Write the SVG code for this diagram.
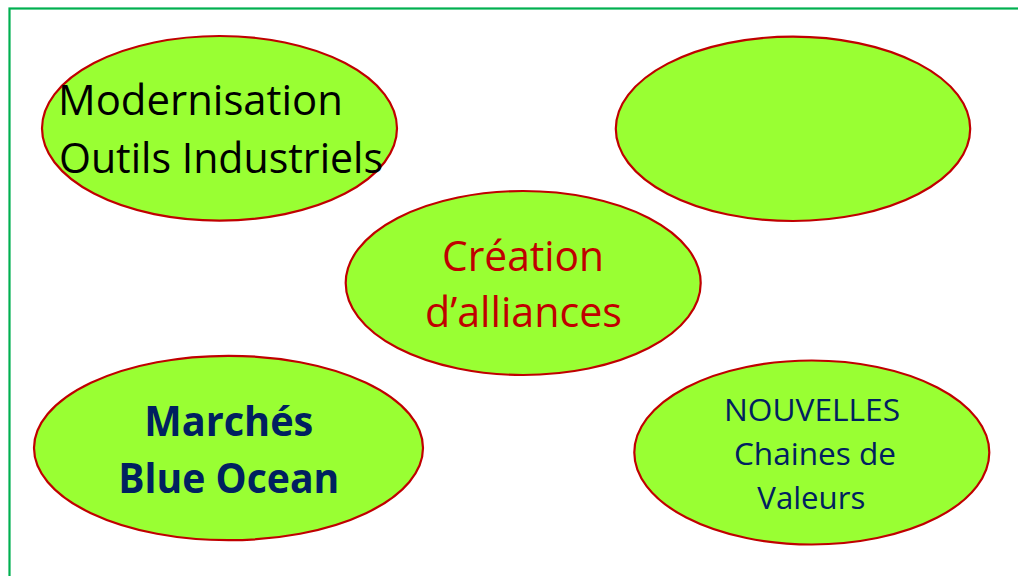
<svg xmlns="http://www.w3.org/2000/svg" width="1018" height="576" viewBox="0 0 1018 576">
<style>
.bubble{fill:#99FF33;stroke:#C00000;stroke-width:2.2}
.t{font-family:"Open Sans","Noto Sans","Liberation Sans",sans-serif}
.big{font-size:42px}
.navyb{font-size:41px;font-weight:bold;fill:#002060}
.navy{font-size:31px;fill:#002060}
.red{fill:#C00000}
</style>
<rect x="0" y="0" width="1018" height="576" fill="#FFFFFF"/>
<rect x="9.5" y="8.5" width="1030" height="590" fill="none" stroke="#00B050" stroke-width="2.2"/>
<g id="connectors"></g>
<g id="node-modernisation">
<ellipse class="bubble" cx="219.5" cy="128.3" rx="177.5" ry="92.3"/>
<text class="t big" x="58" y="115" textLength="285" lengthAdjust="spacingAndGlyphs">Modernisation</text>
<text class="t big" x="59" y="173" textLength="324" lengthAdjust="spacingAndGlyphs">Outils Industriels</text>
</g>
<g id="node-empty">
<ellipse class="bubble" cx="793" cy="128.8" rx="177.2" ry="92.2"/>
</g>
<g id="node-alliances">
<ellipse class="bubble" cx="523.2" cy="283" rx="177.5" ry="92"/>
<text class="t big red" x="523" y="270.7" text-anchor="middle" textLength="162" lengthAdjust="spacingAndGlyphs">Création</text>
<text class="t big red" x="523.5" y="326.7" text-anchor="middle" textLength="197" lengthAdjust="spacingAndGlyphs">d’alliances</text>
</g>
<g id="node-blueocean">
<ellipse class="bubble" cx="228.5" cy="448" rx="194.5" ry="92.2"/>
<text class="t navyb" x="228.8" y="435.7" text-anchor="middle" textLength="169" lengthAdjust="spacingAndGlyphs">Marchés</text>
<text class="t navyb" x="228.8" y="493.3" text-anchor="middle" textLength="221" lengthAdjust="spacingAndGlyphs">Blue Ocean</text>
</g>
<g id="node-chaines">
<ellipse class="bubble" cx="811.8" cy="452.5" rx="177.5" ry="92"/>
<text class="t navy" x="812" y="421" text-anchor="middle" textLength="176" lengthAdjust="spacingAndGlyphs">NOUVELLES</text>
<text class="t navy" x="815" y="465" text-anchor="middle" textLength="162" lengthAdjust="spacingAndGlyphs">Chaines de</text>
<text class="t navy" x="811.3" y="509" text-anchor="middle" textLength="108" lengthAdjust="spacingAndGlyphs">Valeurs</text>
</g>
</svg>
